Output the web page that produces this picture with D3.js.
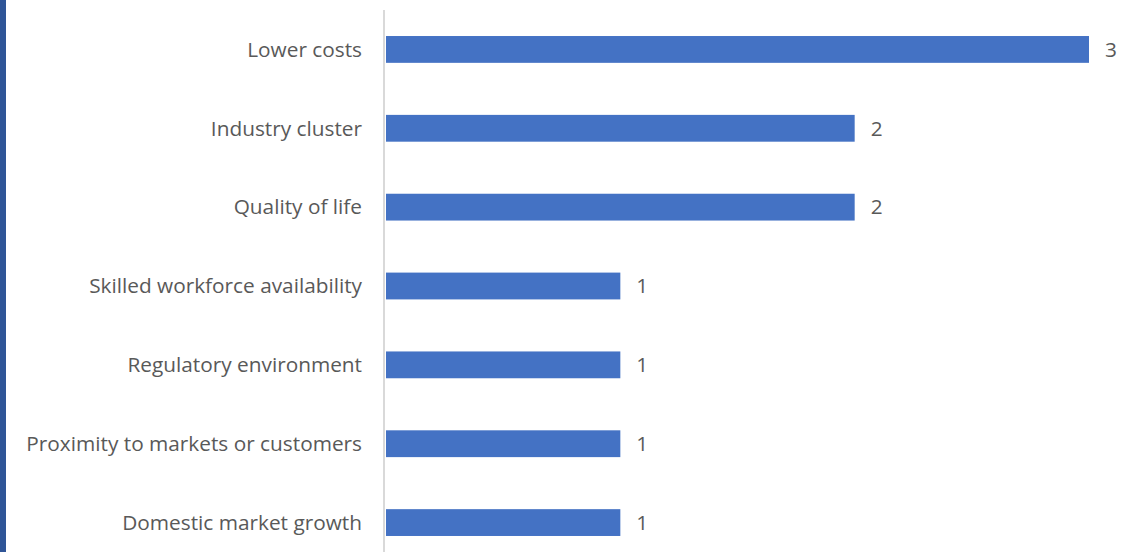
<!DOCTYPE html>
<meta charset="utf-8">
<style>
body { margin: 0; background: #fff; }
text { font-family: "Open Sans", sans-serif; font-size: 20.8px; fill: #595959; }
</style>
<svg width="1135" height="552"></svg>
<script src="https://d3js.org/d3.v7.min.js"></script>
<script>

var categories = [
  "Lower costs",
  "Industry cluster",
  "Quality of life",
  "Skilled workforce availability",
  "Regulatory environment",
  "Proximity to markets or customers",
  "Domestic market growth"
];
var values = [3, 2, 2, 1, 1, 1, 1];

var svg = d3.select("svg"),
    width = +svg.attr("width"),
    height = +svg.attr("height");

// dark frame edge on the left
svg.append("rect").attr("x", 0).attr("y", 0).attr("width", 6).attr("height", height).attr("fill", "#2f5597");

var x0 = 386;
var x = d3.scaleLinear().domain([0, 3]).range([x0, 1089]);
var y = d3.scaleBand().domain(categories).range([10, 562])
    .paddingInner(0.66).paddingOuter(0.33);

var data = categories.map(function(c, i) { return {cat: c, val: values[i]}; });

svg.selectAll("rect.bar")
  .data(data)
  .enter().append("rect")
    .attr("class", "bar")
    .attr("x", x(0))
    .attr("y", function(d) { return y(d.cat); })
    .attr("width", function(d) { return x(d.val) - x(0); })
    .attr("height", y.bandwidth())
    .attr("fill", "#4472c4");

// category axis line
svg.append("line")
    .attr("x1", 384).attr("x2", 384)
    .attr("y1", 10).attr("y2", height)
    .attr("stroke", "#d9d9d9").attr("stroke-width", 2);

svg.selectAll("text.cat")
  .data(data)
  .enter().append("text")
    .attr("class", "cat")
    .attr("x", 362)
    .attr("y", function(d) { return y(d.cat) + y.bandwidth() / 2; })
    .attr("dy", "0.35em")
    .attr("text-anchor", "end")
    .text(function(d) { return d.cat; });

svg.selectAll("text.val")
  .data(data)
  .enter().append("text")
    .attr("class", "val")
    .attr("x", function(d) { return x(d.val) + 16; })
    .attr("y", function(d) { return y(d.cat) + y.bandwidth() / 2; })
    .attr("dy", "0.35em")
    .text(function(d) { return d.val; });

</script>
